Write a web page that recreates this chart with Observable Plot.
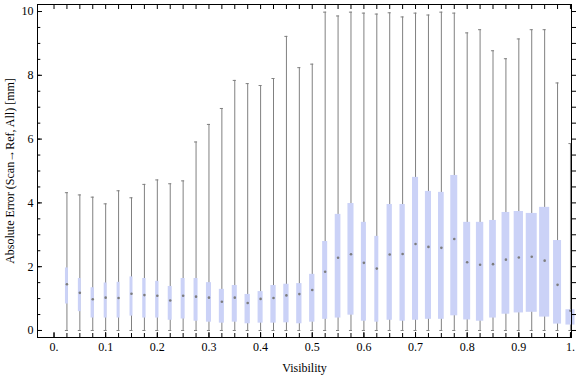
<!DOCTYPE html>
<html>
<head>
<meta charset="utf-8">
<script src="https://cdn.jsdelivr.net/npm/d3@7"></script>
<script src="https://cdn.jsdelivr.net/npm/@observablehq/plot@0.6"></script>
<style>
  html, body { margin: 0; padding: 0; background: #fff; }
  svg { display: block; }
</style>
</head>
<body>
<div id="chart"></div>
<script>
// Visibility bins (box centres)
const visibility = [0.025,0.05,0.075,0.1,0.125,0.15,0.175,0.2,0.225,0.25,
  0.275,0.3,0.325,0.35,0.375,0.4,0.425,0.45,0.475,0.5,
  0.525,0.55,0.575,0.6,0.625,0.65,0.675,0.7,0.725,0.75,
  0.775,0.8,0.825,0.85,0.875,0.9,0.925,0.95,0.975,1.0];
// Whisker ends [mm]
const whiskerMin = [0,0,0,0,0,0,0,0,0,0, 0,0,0,0,0,0,0,0,0,0,
  0,0,0,0,0,0,0,0,0,0, 0,0,0,0,0,0,0,0,0,0];
const whiskerMax = [4.32,4.25,4.18,3.97,4.38,4.16,4.58,4.72,4.60,4.69,
  5.91,6.46,6.96,7.84,7.74,7.68,7.90,9.22,8.24,8.35,
  9.98,9.86,9.98,9.95,9.92,9.96,9.83,9.95,9.89,9.98,
  9.95,9.33,9.43,8.77,8.52,9.14,9.43,9.43,7.76,5.86];
// Quartiles [mm]
const q1 = [0.83,0.59,0.39,0.39,0.39,0.45,0.39,0.39,0.32,0.36,
  0.29,0.26,0.23,0.26,0.21,0.23,0.23,0.24,0.21,0.26,
  0.35,0.39,0.48,0.29,0.26,0.32,0.29,0.32,0.35,0.35,
  0.46,0.33,0.29,0.39,0.51,0.55,0.57,0.42,0.20,0.17];
const median = [1.45,1.18,0.98,1.03,1.02,1.15,1.11,1.09,0.94,1.09,
  1.06,1.03,0.90,1.03,0.86,0.99,1.02,1.10,1.14,1.27,
  1.84,2.28,2.39,2.12,1.94,2.38,2.40,2.71,2.62,2.59,
  2.87,2.14,2.06,2.08,2.22,2.29,2.31,2.19,1.43,0.62];
const q3 = [1.96,1.63,1.34,1.49,1.51,1.68,1.63,1.54,1.38,1.63,
  1.63,1.50,1.29,1.41,1.13,1.22,1.41,1.45,1.47,1.76,
  2.79,3.64,3.98,3.39,2.95,3.95,3.95,4.80,4.36,4.33,
  4.86,3.39,3.39,3.45,3.70,3.73,3.67,3.86,2.82,0.65];
// Relative box width (fraction of the bin spacing)
const relWidth = [0.23,0.23,0.26,0.23,0.23,0.23,0.26,0.26,0.31,0.31,
  0.31,0.39,0.39,0.39,0.41,0.39,0.41,0.41,0.41,0.41,
  0.39,0.44,0.47,0.39,0.31,0.41,0.41,0.47,0.47,0.44,
  0.54,0.54,0.57,0.52,0.60,0.72,0.85,0.78,0.62,0.70];
const binSpacing = 0.025;

const xTickLabels = [0,0.1,0.2,0.3,0.4,0.5,0.6,0.7,0.8,0.9,1];
const yTickLabels = [0,2,4,6,8,10];
const xLabel = "Visibility";
const yLabel = "Absolute Error (Scan\u2192Ref, All) [mm]";

const data = visibility.map((v, i) => ({
  x: v, lo: whiskerMin[i], hi: whiskerMax[i],
  q1: q1[i], med: median[i], q3: q3[i], w: relWidth[i] * binSpacing
}));

const xMinor = d3.range(0, 1.0001, 0.025);
const yMinor = d3.range(0, 10.0001, 0.5);
const capHalf = 0.003;
const whiskerColor = "#808080";
const boxColor = "#cbd2f7";

const fmtX = d => d === 0 ? "0." : d === 1 ? "1." : d3.format(".1f")(d);

const chart = Plot.plot({
  width: 576,
  height: 377,
  marginLeft: 37,
  marginRight: 5,
  marginTop: 4,
  marginBottom: 40,
  style: {fontFamily: "'Liberation Serif', 'Times New Roman', serif", fontSize: "12px", background: "#fff", color: "#000", overflow: "visible"},
  x: {domain: [-0.032, 1.002], axis: null},
  y: {domain: [-0.22, 10.22], axis: null},
  marks: [
    // whiskers
    Plot.ruleX(data, {x: "x", y1: "lo", y2: "hi", stroke: whiskerColor, strokeWidth: 1}),
    Plot.ruleY(data, {y: "hi", x1: d => d.x - capHalf, x2: d => d.x + capHalf, stroke: whiskerColor, strokeWidth: 1}),
    Plot.ruleY(data, {y: "lo", x1: d => d.x - capHalf, x2: d => d.x + capHalf, stroke: whiskerColor, strokeWidth: 1}),
    // boxes
    Plot.rect(data, {x1: d => d.x - d.w / 2, x2: d => d.x + d.w / 2, y1: "q1", y2: "q3", fill: boxColor}),
    // medians
    Plot.dot(data, {x: "x", y: "med", r: 1.3, fill: "#7d7d7d", stroke: null}),
    // frame
    Plot.frame({stroke: "#000", strokeWidth: 1}),
    // x ticks (bottom inward, top inward)
    Plot.axisX(xMinor, {anchor: "bottom", tickSize: -4, tickFormat: () => "", label: null}),
    Plot.axisX(xTickLabels, {anchor: "bottom", tickSize: -5, tickFormat: () => "", label: null}),
    Plot.axisX(xMinor, {anchor: "top", tickSize: -4, tickFormat: () => "", label: null}),
    Plot.axisX(xTickLabels, {anchor: "bottom", tickSize: 0, tickPadding: 5, tickFormat: fmtX, label: null, fontSize: 12}),
    // y ticks (left inward, right outward)
    Plot.axisY(yMinor, {anchor: "left", tickSize: -3.3, tickFormat: () => "", label: null}),
    Plot.axisY(yTickLabels, {anchor: "left", tickSize: -5, tickFormat: () => "", label: null}),
    Plot.axisY(yMinor, {anchor: "right", tickSize: 5, tickFormat: () => "", label: null}),
    Plot.axisY(yTickLabels, {anchor: "left", tickSize: 0, tickPadding: 4, tickFormat: d => String(d), label: null, fontSize: 12}),
    // axis titles
    Plot.text([xLabel], {frameAnchor: "bottom", dy: 34, lineAnchor: "bottom", textAnchor: "middle", fontSize: 12, fill: "#000"}),
    Plot.text([yLabel], {frameAnchor: "left", dx: -24, rotate: -90, lineAnchor: "bottom", textAnchor: "middle", fontSize: 12, fill: "#000"})
  ]
});
document.getElementById("chart").appendChild(chart);
</script>
</body>
</html>
